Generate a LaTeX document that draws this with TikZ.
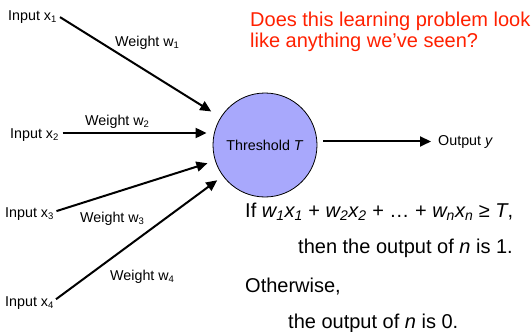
\documentclass[tikz,border=0pt]{standalone}
\usepackage{fontspec}
\setmainfont{Liberation Sans}
\usetikzlibrary{arrows.meta,calc}
\definecolor{cellfill}{RGB}{168,168,252}
\definecolor{qred}{RGB}{255,32,0}
\newcommand{\lsub}[1]{\raisebox{-2.5pt}{\fontsize{9.5}{10}\selectfont #1}}
\begin{document}
\begin{tikzpicture}[x=1pt,y=-1pt,
  lbl/.style={anchor=base west,inner sep=0pt,font=\fontsize{14.3}{16}\selectfont},
  inlbl/.style={lbl,text height=10pt,text depth=0pt},
  big/.style={anchor=base west,inner sep=0pt,font=\fontsize{20}{22}\selectfont},
  arr/.style={line width=2pt,-{Triangle[length=11pt,width=10pt]}},
  neuron/.style={circle,draw=black,line width=0.8pt,fill=cellfill,minimum size=104pt,inner sep=0pt,font=\fontsize{14.3}{16}\selectfont}]
\useasboundingbox (0,0) rectangle (531,332);

\node[neuron] (th) at (265,145) {\raisebox{-2pt}{Threshold \textit{T}}};

\node[inlbl] (in1) at (8,20) {Input x\lsub{1}};
\node[inlbl] (in2) at (10,138) {Input x\lsub{2}};
\node[inlbl] (in3) at (5,217) {Input x\lsub{3}};
\node[inlbl] (in4) at (5,306) {Input x\lsub{4}};

\node[lbl] (w1) at (115,46) {Weight w\lsub{1}};
\node[lbl] (w2) at (85,125) {Weight w\lsub{2}};
\node[lbl] (w3) at (80,222) {Weight w\lsub{3}};
\node[lbl] (w4) at (110,280) {Weight w\lsub{4}};

\node[lbl] (out) at (438,145) {Output \textit{y}};

\draw[arr,shorten <=4pt,shorten >=11pt] (in1.east) -- (th);
\draw[arr,shorten <=4pt,shorten >=6pt] (in2.east) -- (in2.east -| th.west);
\draw[arr,shorten <=3pt,shorten >=8pt] (in3.east) -- (th);
\draw[arr,shorten <=3pt,shorten >=7pt] (in4.east) -- (th);
\draw[arr] ($(th.east |- out.west)+(6,0)$) -- ($(out.west)+(-7,0)$);

\node[big,text=qred] (q1) at (250,27) {Does this learning problem look};
\node[big,text=qred] (q2) at (250,48) {like anything we’ve seen?};

\node[big] (r1) at (245,217) {If \textit{w\textsubscript{1}x\textsubscript{1}} + \textit{w\textsubscript{2}x\textsubscript{2}} + … + \textit{w\textsubscript{n}x\textsubscript{n}} ≥ \textit{T},};
\node[big] (r2) at (298,253) {then the output of \textit{n} is 1.};
\node[big] (r3) at (245,292) {Otherwise,};
\node[big] (r4) at (288,328) {the output of \textit{n} is 0.};
\end{tikzpicture}
\end{document}
